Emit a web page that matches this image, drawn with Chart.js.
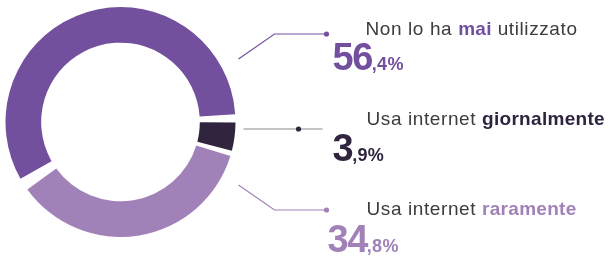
<!DOCTYPE html>
<html>
<head>
<meta charset="utf-8">
<script src="https://cdn.jsdelivr.net/npm/chart.js@4"></script>
<style>
  html, body { margin: 0; padding: 0; background: #fff; }
  #wrap { position: relative; width: 614px; height: 256px; overflow: hidden; }
  #chart { position: absolute; left: 0; top: 0; }
  .lbl { position: absolute; white-space: nowrap; font-family: "Liberation Sans", Arial, sans-serif; }
  .title { font-size: 19px; line-height: 19px; color: #3c3c3c; font-weight: 400; letter-spacing: 0.6px; }
  .title b { font-weight: 700; letter-spacing: 0.3px; }
  .num { font-size: 38px; line-height: 38px; font-weight: 700; letter-spacing: -1.5px; }
  .num small { font-size: 18px; letter-spacing: 0.3px; }
</style>
</head>
<body>
<div id="wrap">
  <canvas id="chart" width="614" height="256"></canvas>
</div>
<script>
const categories = ['Usa internet giornalmente', 'Usa internet raramente', 'Non lo ha mai utilizzato'];
const values = [3.9, 34.8, 56.4];
const colors = ['#30243f', '#a182b8', '#73509e'];

// text pieces for each label: plain part, bold part, bold colour, number
const labelPlain = ['Usa internet ', 'Usa internet ', 'Non lo ha '];
const labelBold = ['giornalmente', 'raramente', 'mai'];
const labelAfter = ['', '', ' utilizzato'];
const boldColors = ['#2f2440', '#a182b8', '#73509e'];
const numInt = ['3', '34', '56'];
const numDec = [',9%', ',8%', ',4%'];

// leader line layout (relative to donut centre)
const leaders = [
    { pts: [[123, 7], [202, 7]], dot: [178, 7], line: '#8a8a8a', dotColor: '#30243f', title: [246, 3], num: [212, 39] },
    { pts: [[118, 63], [154, 88], [206, 88]], dot: [206, 88], line: '#a182b8', dotColor: '#a182b8', title: [246, 93], num: [207, 130] },
    { pts: [[118, -63], [154, -88], [206, -88]], dot: [206, -88], line: '#73509e', dotColor: '#73509e', title: [245, -87], num: [212, -52] }
];

const leaderPlugin = {
    id: 'leaders',
    afterDraw(chart) {
        const arc = chart.getDatasetMeta(0).data[0];
        if (!arc) return;
        const cx = arc.x, cy = arc.y;
        const ctx = chart.ctx;
        ctx.save();
        leaders.forEach(l => {
            ctx.beginPath();
            l.pts.forEach((p, i) => {
                if (i === 0) ctx.moveTo(cx + p[0], cy + p[1]);
                else ctx.lineTo(cx + p[0], cy + p[1]);
            });
            ctx.strokeStyle = l.line;
            ctx.lineWidth = 1.2;
            ctx.stroke();
            ctx.beginPath();
            ctx.arc(cx + l.dot[0], cy + l.dot[1], 2.6, 0, Math.PI * 2);
            ctx.fillStyle = l.dotColor;
            ctx.fill();
        });
        ctx.restore();
    }
};

function placeLabels(chart) {
    const arc = chart.getDatasetMeta(0).data[0];
    const cx = arc.x, cy = arc.y;
    const wrap = document.getElementById('wrap');
    leaders.forEach((l, i) => {
        const t = document.createElement('div');
        t.className = 'lbl title';
        t.style.left = (cx + l.title[0]) + 'px';
        t.style.top = (cy + l.title[1] - 16) + 'px';
        t.innerHTML = labelPlain[i] + '<b style="color:' + boldColors[i] + '">' + labelBold[i] + '</b>' + labelAfter[i];
        wrap.appendChild(t);

        const n = document.createElement('div');
        n.className = 'lbl num';
        n.style.left = (cx + l.num[0]) + 'px';
        n.style.top = (cy + l.num[1] - 32) + 'px';
        n.style.color = colors[i];
        n.innerHTML = numInt[i] + '<small>' + numDec[i] + '</small>';
        wrap.appendChild(n);
    });
}

const chart = new Chart(document.getElementById('chart'), {
    type: 'doughnut',
    data: {
        labels: categories,
        datasets: [{
            data: values,
            backgroundColor: colors,
            borderWidth: 0,
            spacing: 7
        }]
    },
    options: {
        responsive: false,
        animation: false,
        rotation: 90,
        cutout: '68%',
        layout: { padding: { left: 5.5, top: 7, right: 378.5, bottom: 19 } },
        plugins: { legend: { display: false }, tooltip: { enabled: false } }
    },
    plugins: [leaderPlugin]
});

placeLabels(chart);
</script>
</body>
</html>
